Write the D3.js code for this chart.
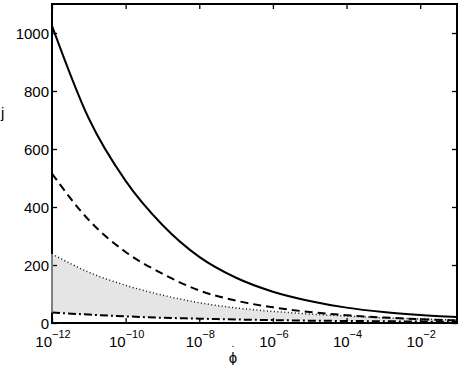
<!DOCTYPE html>
<html>
<head>
<meta charset="utf-8">
<script src="https://cdn.jsdelivr.net/npm/d3@7"></script>
<style>
  body { margin: 0; background: #fff; }
  svg { display: block; font-family: "Liberation Sans", Arial, sans-serif; }
  .axis path { display: none; }
  .axis line { stroke: #000; stroke-width: 1.3; }
</style>
</head>
<body>
<svg id="chart"></svg>
<script>
"use strict";

// values, one per decade of phi-dot
var phi = [1e-12, 1e-11, 1e-10, 1e-9, 1e-8, 1e-7, 1e-6, 1e-5, 1e-4, 1e-3, 1e-2, 1e-1];
var jSolid   = [1025, 705, 490, 338, 228, 156, 108, 76, 53, 38, 28, 21];
var jDashed  = [515, 355, 245, 170, 112, 77, 54, 38, 27, 19, 13, 9];
var jDotted  = [238, 175, 130, 96, 70, 52, 40, 31, 24, 18, 14, 10];
var jDashDot = [36, 29, 23, 18, 15, 12, 10, 8, 7, 6, 5, 4];

var xTicks = [1e-12, 1e-10, 1e-8, 1e-6, 1e-4, 1e-2];
var yTicks = [0, 200, 400, 600, 800, 1000];

var width = 463, height = 365;
var plot = { left: 52, right: 457, top: 4, bottom: 323 };

var svg = d3.select('#chart')
    .attr('width', width)
    .attr('height', height);

var x = d3.scaleLog().domain([1e-12, 1e-1]).range([plot.left, plot.right]);
var y = d3.scaleLinear().domain([0, 1100]).range([plot.bottom, plot.top]);

function pts(vals) {
    return phi.map((p, i) => ({ p: p, v: vals[i] }));
}

// shaded band between dotted and dash-dot curves
var band = phi.map((p, i) => ({ p: p, lo: jDashDot[i], hi: jDotted[i] }));
var area = d3.area()
    .curve(d3.curveMonotoneX)
    .x(d => x(d.p))
    .y0(d => y(d.lo))
    .y1(d => y(d.hi));

svg.append('path')
    .datum(band)
    .attr('d', area)
    .attr('fill', '#e5e5e5');

var line = d3.line()
    .curve(d3.curveMonotoneX)
    .x(d => x(d.p))
    .y(d => y(d.v));

var series = [
    { vals: jDotted,  w: 1.5, dash: '1,2.5',   color: '#111' },
    { vals: jDashDot, w: 2,   dash: '8,3,2,3', color: '#000' },
    { vals: jDashed,  w: 2,   dash: '8,5',     color: '#000' },
    { vals: jSolid,   w: 2,   dash: null,      color: '#000' }
];

series.forEach(s => {
    svg.append('path')
        .datum(pts(s.vals))
        .attr('d', line)
        .attr('fill', 'none')
        .attr('stroke', s.color)
        .attr('stroke-width', s.w)
        .attr('stroke-dasharray', s.dash);
});

// axes, ticks pointing inward
svg.append('g')
    .attr('class', 'axis')
    .attr('transform', `translate(0,${plot.bottom})`)
    .call(d3.axisBottom(x).tickValues(xTicks).tickSizeInner(-5).tickSizeOuter(0).tickFormat(''));
svg.append('g')
    .attr('class', 'axis')
    .attr('transform', `translate(0,${plot.top})`)
    .call(d3.axisTop(x).tickValues(xTicks).tickSizeInner(-5).tickSizeOuter(0).tickFormat(''));
svg.append('g')
    .attr('class', 'axis')
    .attr('transform', `translate(${plot.left},0)`)
    .call(d3.axisLeft(y).tickValues(yTicks).tickSizeInner(-5).tickSizeOuter(0).tickFormat(''));
svg.append('g')
    .attr('class', 'axis')
    .attr('transform', `translate(${plot.right},0)`)
    .call(d3.axisRight(y).tickValues(yTicks).tickSizeInner(-5).tickSizeOuter(0).tickFormat(''));

svg.append('rect')
    .attr('x', plot.left)
    .attr('y', plot.top)
    .attr('width', plot.right - plot.left)
    .attr('height', plot.bottom - plot.top)
    .attr('fill', 'none')
    .attr('stroke', '#000')
    .attr('stroke-width', 2);

// the band's grey edge sits over the left axis
svg.append('line')
    .attr('x1', plot.left).attr('x2', plot.left)
    .attr('y1', y(jDotted[0])).attr('y2', y(jDashDot[0]))
    .attr('stroke', '#808080')
    .attr('stroke-width', 2);

// y tick labels
svg.selectAll('.ylab')
    .data(yTicks)
    .enter()
    .append('text')
    .attr('class', 'ylab')
    .attr('x', plot.left - 3)
    .attr('y', d => y(d) + 5.5)
    .attr('text-anchor', 'end')
    .attr('font-size', 15)
    .text(d => d);

// x tick labels with superscript exponents
var xl = svg.selectAll('.xlab')
    .data(xTicks)
    .enter()
    .append('text')
    .attr('class', 'xlab')
    .attr('x', d => x(d) + 1)
    .attr('y', 347)
    .attr('text-anchor', 'middle')
    .attr('font-size', 15);
xl.append('tspan').text('10');
xl.append('tspan')
    .attr('dy', -9)
    .attr('font-size', 11)
    .text(d => '\u2212' + Math.round(-Math.log10(d)));

// axis titles: phi with a dot above it
svg.append('text')
    .attr('x', 233)
    .attr('y', 363)
    .attr('text-anchor', 'middle')
    .attr('font-size', 15)
    .text('\u03D5');
svg.append('text')
    .attr('x', 233)
    .attr('y', 347)
    .attr('text-anchor', 'middle')
    .attr('font-size', 10)
    .text('.');

svg.append('text')
    .attr('x', 1)
    .attr('y', 118)
    .attr('font-size', 15)
    .text('j');
</script>
</body>
</html>
